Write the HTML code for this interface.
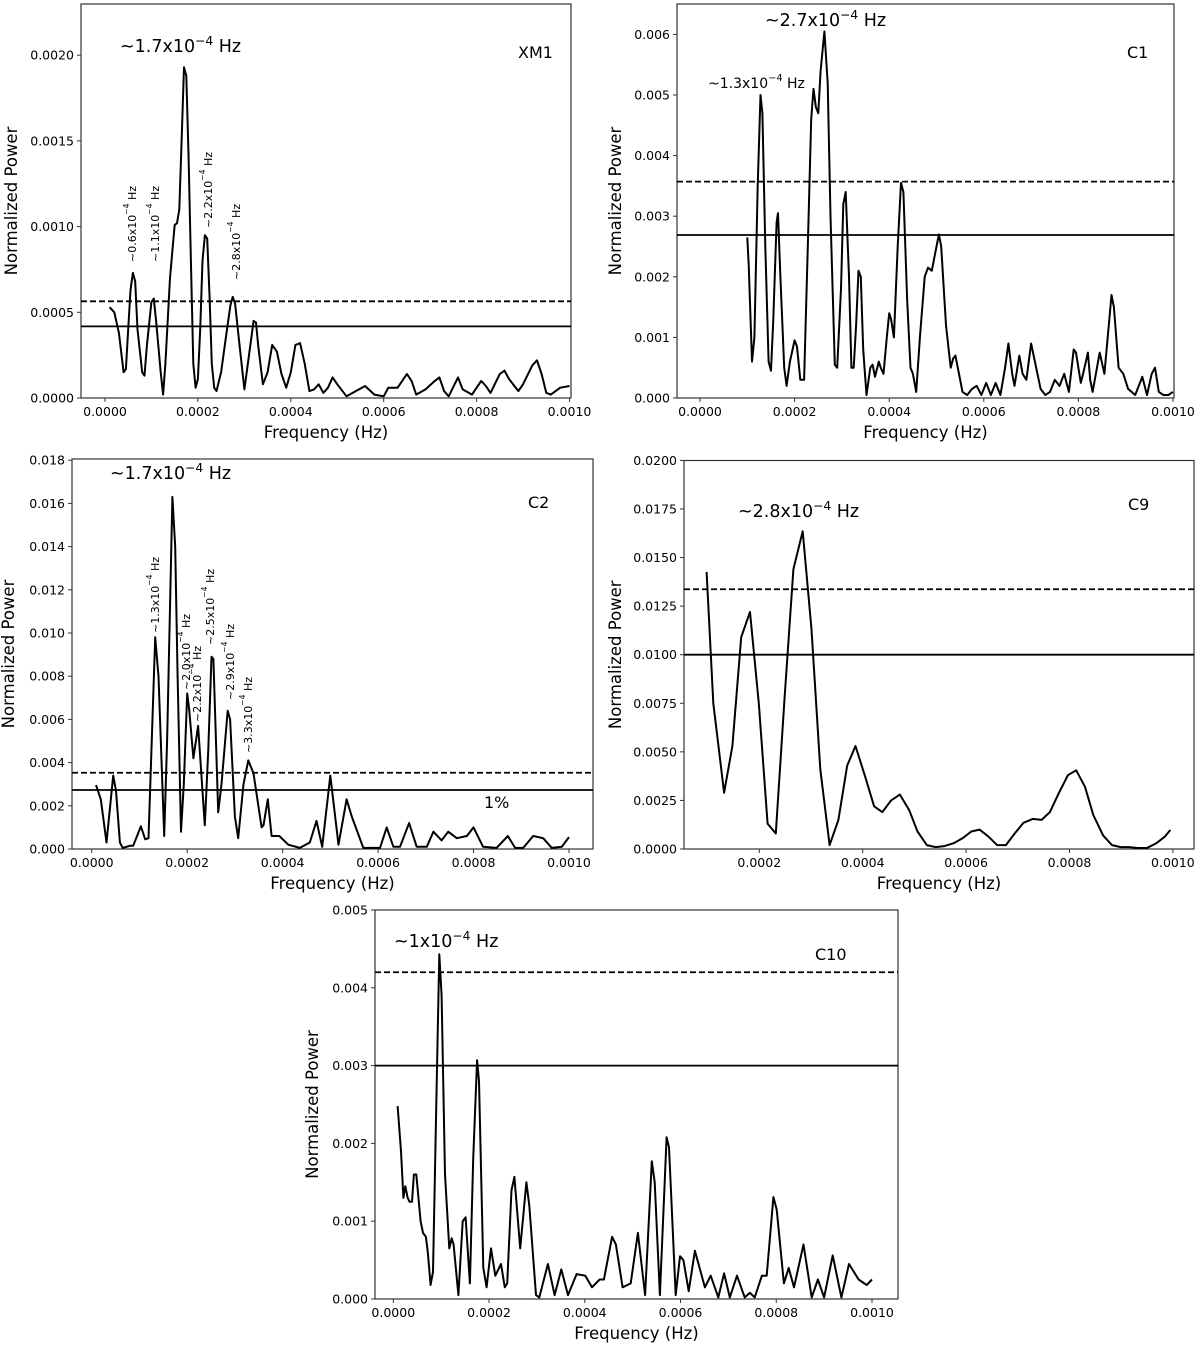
<!DOCTYPE html>
<html><head><meta charset="utf-8">
<style>
html,body{margin:0;padding:0;background:#fff;}
svg{display:block;font-family:"DejaVu Sans","Liberation Sans",sans-serif;}
</style></head>
<body>
<svg id="fig" width="1200" height="1348" viewBox="0 0 1200 1348" xmlns="http://www.w3.org/2000/svg"></svg>
<script>
// ---------- DATA (frequency in 1e-4 Hz units, power in panel units) ----------
const xm1Freq = [0.1,0.2,0.3,0.4,0.45,0.5,0.55,0.6,0.65,0.7,0.8,0.85,0.9,1.0,1.05,1.1,1.2,1.25,1.3,1.4,1.45,1.5,1.55,1.6,1.65,1.7,1.75,1.8,1.85,1.9,1.95,2.0,2.05,2.1,2.15,2.2,2.25,2.3,2.35,2.4,2.5,2.6,2.7,2.75,2.8,2.9,3.0,3.1,3.2,3.25,3.3,3.4,3.5,3.6,3.7,3.8,3.9,4.0,4.1,4.2,4.3,4.4,4.5,4.6,4.7,4.8,4.9,5.0,5.2,5.4,5.6,5.8,6.0,6.1,6.3,6.5,6.6,6.7,6.9,7.1,7.2,7.3,7.4,7.6,7.7,7.9,8.1,8.2,8.3,8.5,8.6,8.7,8.9,9.0,9.2,9.3,9.4,9.5,9.6,9.8,10.0];
const xm1Power = [5.3,5.0,3.8,1.5,1.7,4,6.3,7.3,6.8,4,1.5,1.3,3,5.6,5.8,4.5,1.5,0.2,2,7,8.6,10.1,10.2,11,15,19.3,18.8,14,8,2,0.6,1.1,4,8,9.5,9.3,6,2,0.6,0.4,1.5,3.5,5.4,5.9,5.5,3,0.5,2.5,4.5,4.4,3,0.8,1.5,3.1,2.7,1.4,0.6,1.5,3.1,3.2,2,0.4,0.5,0.8,0.3,0.6,1.2,0.8,0.1,0.4,0.7,0.2,0.1,0.6,0.6,1.4,1.0,0.2,0.5,1.0,1.2,0.4,0.1,1.2,0.5,0.2,1.0,0.7,0.3,1.4,1.6,1.1,0.4,0.8,1.9,2.2,1.4,0.3,0.2,0.6,0.7];
const xm1Thresholds = [5.64, 4.18];

const c1Freq = [1.0,1.03,1.1,1.15,1.22,1.28,1.32,1.38,1.45,1.5,1.55,1.62,1.65,1.7,1.78,1.83,1.9,2.0,2.05,2.12,2.2,2.28,2.35,2.4,2.45,2.5,2.55,2.63,2.7,2.76,2.85,2.9,2.98,3.03,3.08,3.15,3.2,3.25,3.3,3.35,3.4,3.45,3.52,3.6,3.65,3.7,3.78,3.82,3.88,3.95,4.0,4.04,4.1,4.18,4.25,4.3,4.38,4.45,4.5,4.57,4.65,4.75,4.82,4.9,5.0,5.05,5.1,5.2,5.3,5.35,5.4,5.45,5.55,5.65,5.75,5.85,5.95,6.05,6.15,6.25,6.35,6.45,6.52,6.6,6.65,6.75,6.82,6.9,7.0,7.08,7.2,7.3,7.4,7.5,7.6,7.7,7.8,7.9,7.95,8.05,8.1,8.2,8.25,8.3,8.45,8.55,8.62,8.7,8.75,8.85,8.95,9.05,9.2,9.35,9.45,9.55,9.62,9.7,9.8,9.9,10.0];
const c1Power = [2.65,2.2,0.6,1.0,3.5,5.0,4.7,2.5,0.6,0.45,1.3,2.9,3.05,2.0,0.5,0.2,0.6,0.95,0.85,0.3,0.3,2.5,4.6,5.1,4.8,4.7,5.4,6.05,5.2,3.0,0.55,0.5,1.8,3.2,3.4,2.0,0.5,0.5,1.2,2.1,2.0,0.8,0.05,0.5,0.55,0.35,0.6,0.5,0.4,1.0,1.4,1.3,1.0,2.5,3.55,3.4,1.6,0.5,0.4,0.1,1.0,2.0,2.15,2.1,2.5,2.7,2.5,1.2,0.5,0.65,0.7,0.5,0.1,0.05,0.15,0.2,0.05,0.25,0.05,0.25,0.05,0.5,0.9,0.4,0.2,0.7,0.4,0.3,0.9,0.6,0.15,0.05,0.1,0.3,0.2,0.4,0.1,0.8,0.75,0.25,0.4,0.75,0.3,0.1,0.75,0.4,1.0,1.7,1.5,0.5,0.4,0.15,0.05,0.35,0.05,0.4,0.5,0.1,0.05,0.05,0.1];
const c1Thresholds = [3.57, 2.69];

const c2Freq = [0.09,0.19,0.31,0.45,0.51,0.59,0.65,0.8,0.87,1.03,1.12,1.19,1.33,1.4,1.52,1.58,1.69,1.75,1.8,1.87,1.93,2.0,2.04,2.13,2.23,2.37,2.44,2.51,2.55,2.65,2.72,2.85,2.9,3.0,3.07,3.18,3.28,3.39,3.56,3.6,3.69,3.77,3.93,4.12,4.36,4.57,4.71,4.83,5.0,5.17,5.34,5.45,5.55,5.69,6.04,6.18,6.32,6.46,6.65,6.81,7.02,7.16,7.33,7.47,7.65,7.86,8.0,8.2,8.48,8.72,8.87,9.04,9.25,9.46,9.64,9.85,10.0];
const c2Power = [2.96,2.3,0.3,3.4,2.7,0.3,0.05,0.15,0.15,1.05,0.45,0.5,9.8,8.0,0.6,5,16.3,14,8,0.8,3,7.2,6.5,4.2,5.7,1.1,4.5,8.9,8.8,1.7,3,6.4,6.0,1.5,0.5,3,4.1,3.5,1.0,1.1,2.3,0.6,0.6,0.2,0.05,0.3,1.3,0.1,3.4,0.2,2.3,1.5,0.9,0.05,0.05,1.0,0.1,0.1,1.2,0.1,0.1,0.8,0.4,0.8,0.5,0.6,1.0,0.1,0.05,0.6,0.05,0.05,0.6,0.5,0.05,0.1,0.55];
const c2Thresholds = [3.53, 2.73];

const c9Freq = [0.98,1.11,1.32,1.48,1.65,1.82,1.99,2.16,2.32,2.49,2.66,2.84,3.01,3.18,3.36,3.53,3.7,3.86,4.05,4.22,4.38,4.55,4.72,4.9,5.06,5.24,5.41,5.58,5.76,5.93,6.1,6.26,6.43,6.6,6.77,6.94,7.11,7.29,7.46,7.62,7.79,7.97,8.13,8.3,8.46,8.65,8.82,8.99,9.16,9.32,9.5,9.68,9.85,9.95];
const c9Power = [14.26,7.5,2.9,5.3,10.9,12.2,7.5,1.3,0.8,7.8,14.4,16.35,11.3,4.1,0.2,1.5,4.3,5.3,3.7,2.2,1.9,2.5,2.8,2.0,0.9,0.2,0.1,0.15,0.3,0.55,0.9,1.0,0.65,0.2,0.2,0.8,1.35,1.55,1.5,1.9,2.85,3.8,4.05,3.2,1.75,0.7,0.2,0.1,0.1,0.05,0.05,0.3,0.65,0.98];
const c9Thresholds = [13.37, 10.0];

const c10Freq = [0.09,0.16,0.21,0.25,0.3,0.34,0.39,0.43,0.48,0.57,0.62,0.68,0.72,0.78,0.83,0.91,0.96,1.01,1.08,1.17,1.22,1.26,1.36,1.45,1.51,1.6,1.67,1.75,1.79,1.88,1.95,2.04,2.13,2.25,2.33,2.38,2.47,2.53,2.65,2.78,2.84,2.98,3.05,3.23,3.37,3.51,3.65,3.83,4.01,4.15,4.31,4.4,4.57,4.65,4.79,4.96,5.11,5.26,5.4,5.46,5.57,5.71,5.76,5.9,5.99,6.06,6.17,6.3,6.51,6.63,6.79,6.91,7.03,7.18,7.34,7.45,7.55,7.7,7.8,7.94,8.01,8.16,8.26,8.37,8.57,8.74,8.87,9.0,9.18,9.36,9.52,9.72,9.89,10.0];
const c10Power = [2.48,1.9,1.3,1.45,1.3,1.25,1.25,1.6,1.6,1.0,0.85,0.8,0.6,0.18,0.35,2.9,4.43,3.9,1.6,0.65,0.78,0.7,0.05,1.0,1.05,0.2,1.8,3.07,2.8,0.4,0.15,0.65,0.3,0.45,0.15,0.2,1.4,1.57,0.65,1.5,1.2,0.05,0.02,0.45,0.05,0.38,0.05,0.32,0.3,0.15,0.25,0.25,0.8,0.7,0.15,0.2,0.85,0.05,1.77,1.5,0.05,2.08,1.95,0.05,0.55,0.5,0.1,0.62,0.15,0.3,0.02,0.33,0.02,0.3,0.02,0.08,0.02,0.3,0.3,1.31,1.15,0.2,0.4,0.15,0.7,0.02,0.25,0.02,0.56,0.02,0.45,0.25,0.18,0.25];
const c10Thresholds = [4.2, 3.0];

const xTicks = [0,2,4,6,8,10];
const xTickLabels = ["0.0000","0.0002","0.0004","0.0006","0.0008","0.0010"];

// ---------- RENDER ----------
const NS = "http://www.w3.org/2000/svg";
const svg = document.getElementById("fig");
function mk(tag, attrs, parent){
  const e = document.createElementNS(NS, tag);
  for (const k in attrs) e.setAttribute(k, attrs[k]);
  (parent||svg).appendChild(e);
  return e;
}
function txt(parent, x, y, s, size, anchor, extra){
  const t = mk("text", Object.assign({x:x, y:y, "font-size":size, "text-anchor":anchor||"start", fill:"#000"}, extra||{}), parent);
  t.innerHTML = s;
  return t;
}

function panel(cfg){
  const g = mk("g", {});
  
  
  const sx = v => cfg.x0px + (v - 0) * cfg.pxPerX;
  const sy = v => cfg.bottom - v * cfg.pxPerY;
  const frame = mk("rect", {x:cfg.left, y:cfg.top, width:cfg.right-cfg.left, height:cfg.bottom-cfg.top, fill:"none", stroke:"#333", "stroke-width":1.2}, g);
  
  
  const xt = mk("g", {}, g);
  
  
  xTicks.forEach((v,i)=>{
    if (cfg.skipZero && v === 0) return;
    const X = sx(v);
    mk("line", {x1:X, x2:X, y1:cfg.bottom, y2:cfg.bottom+4, stroke:"#333", "stroke-width":1}, xt);
    txt(xt, X, cfg.bottom+18, xTickLabels[i], 12.5, "middle");
  });
  const xl = txt(g, (cfg.left+cfg.right)/2, cfg.bottom+40, "Frequency (Hz)", 16.5, "middle");
  
  
  const yt = mk("g", {}, g);
  
  
  cfg.yTicks.forEach((v,i)=>{
    const Y = sy(v);
    mk("line", {x1:cfg.left-4, x2:cfg.left, y1:Y, y2:Y, stroke:"#333", "stroke-width":1}, yt);
    txt(yt, cfg.left-7, Y+4.5, cfg.yTickLabels[i], 12.5, "end");
  });
  const yc = (cfg.top+cfg.bottom)/2;
  const yl = txt(g, cfg.yTitleX, yc, "Normalized Power", 16.5, "middle", {transform:`rotate(-90 ${cfg.yTitleX} ${yc})`});
  
  
  const d = mk("line", {x1:cfg.left, x2:cfg.right, y1:sy(cfg.thr[0]), y2:sy(cfg.thr[0]), stroke:"#000", "stroke-width":1.8, "stroke-dasharray":"6,3"}, g);
  
  
  const s = mk("line", {x1:cfg.left, x2:cfg.right, y1:sy(cfg.thr[1]), y2:sy(cfg.thr[1]), stroke:"#000", "stroke-width":1.8}, g);
  
  
  const pts = cfg.fx.map((f,i)=> sx(f).toFixed(1)+","+sy(cfg.py[i]).toFixed(1)).join(" ");
  const pl = mk("polyline", {points:pts, fill:"none", stroke:"#000", "stroke-width":2, "stroke-linejoin":"round"}, g);
  
  
  return g;
}
const sup = '~$1x10<tspan dy="-7" font-size="0.7em">−4</tspan><tspan dy="7"> Hz</tspan>';
function ann(g, s, x, y, size, name, rot){
  const label = sup.replace("$1", s);
  let t;
  if (rot) t = txt(g, x, y, label, size, "start", {transform:`rotate(-90 ${x} ${y})`});
  else t = txt(g, x, y, label, size, "start");
  
  
}
function lab(g, s, x, y, size, name){
  const t = txt(g, x, y, s, size, "start");
  
  
}

// XM1
let g = panel({name:"xm1", left:81, right:571, top:4, bottom:398, x0px:105, pxPerX:46.45, pxPerY:171.4/10,
  yTicks:[0,5,10,15,20], yTickLabels:["0.0000","0.0005","0.0010","0.0015","0.0020"], yTitleX:17,
  thr:xm1Thresholds, fx:xm1Freq, py:xm1Power});
ann(g,"1.7",120,52,17.5,"xm1-main-peak-label");
lab(g,"XM1",518,58,16,"xm1-panel-label");
ann(g,"0.6",136,262,11,"xm1-peak-0.6-label",true);
ann(g,"1.1",159,262,11,"xm1-peak-1.1-label",true);
ann(g,"2.2",212,228,11,"xm1-peak-2.2-label",true);
ann(g,"2.8",240,280,11,"xm1-peak-2.8-label",true);

// C1
g = panel({name:"c1", left:677, right:1174, top:4, bottom:398, x0px:700, pxPerX:47.3, pxPerY:60.6,
  yTicks:[0,1,2,3,4,5,6], yTickLabels:["0.000","0.001","0.002","0.003","0.004","0.005","0.006"], yTitleX:621,
  thr:c1Thresholds, fx:c1Freq, py:c1Power});
ann(g,"2.7",765,26,17.5,"c1-main-peak-label");
ann(g,"1.3",708,88,14,"c1-secondary-peak-label");
lab(g,"C1",1127,58,16,"c1-panel-label");

// C2
g = panel({name:"c2", left:72, right:593, top:459, bottom:849, x0px:91.7, pxPerX:47.73, pxPerY:21.6,
  yTicks:[0,2,4,6,8,10,12,14,16,18], yTickLabels:["0.000","0.002","0.004","0.006","0.008","0.010","0.012","0.014","0.016","0.018"], yTitleX:14,
  thr:c2Thresholds, fx:c2Freq, py:c2Power});
ann(g,"1.7",110,479,17.5,"c2-main-peak-label");
lab(g,"C2",528,508,16,"c2-panel-label");
lab(g,"1%",484,808,16,"c2-significance-label");
ann(g,"1.3",159,633,11,"c2-peak-1.3-label",true);
ann(g,"2.0",190,690,11,"c2-peak-2.0-label",true);
ann(g,"2.2",201,722,11,"c2-peak-2.2-label",true);
ann(g,"2.5",214,645,11,"c2-peak-2.5-label",true);
ann(g,"2.9",234,700,11,"c2-peak-2.9-label",true);
ann(g,"3.3",252,753,11,"c2-peak-3.3-label",true);

// C9
g = panel({name:"c9", left:684, right:1194, top:460.5, bottom:849, x0px:655.9, pxPerX:51.7, pxPerY:19.43, skipZero:true,
  yTicks:[0,2.5,5,7.5,10,12.5,15,17.5,20], yTickLabels:["0.0000","0.0025","0.0050","0.0075","0.0100","0.0125","0.0150","0.0175","0.0200"], yTitleX:621,
  thr:c9Thresholds, fx:c9Freq, py:c9Power});
ann(g,"2.8",738,517,17.5,"c9-main-peak-label");
lab(g,"C9",1128,510,16,"c9-panel-label");

// C10
g = panel({name:"c10", left:375, right:898, top:910, bottom:1299, x0px:393.3, pxPerX:47.87, pxPerY:77.8,
  yTicks:[0,1,2,3,4,5], yTickLabels:["0.000","0.001","0.002","0.003","0.004","0.005"], yTitleX:318,
  thr:c10Thresholds, fx:c10Freq, py:c10Power});
ann(g,"1",394,947,17.5,"c10-main-peak-label");
lab(g,"C10",815,960,16,"c10-panel-label");
</script>
</body></html>
